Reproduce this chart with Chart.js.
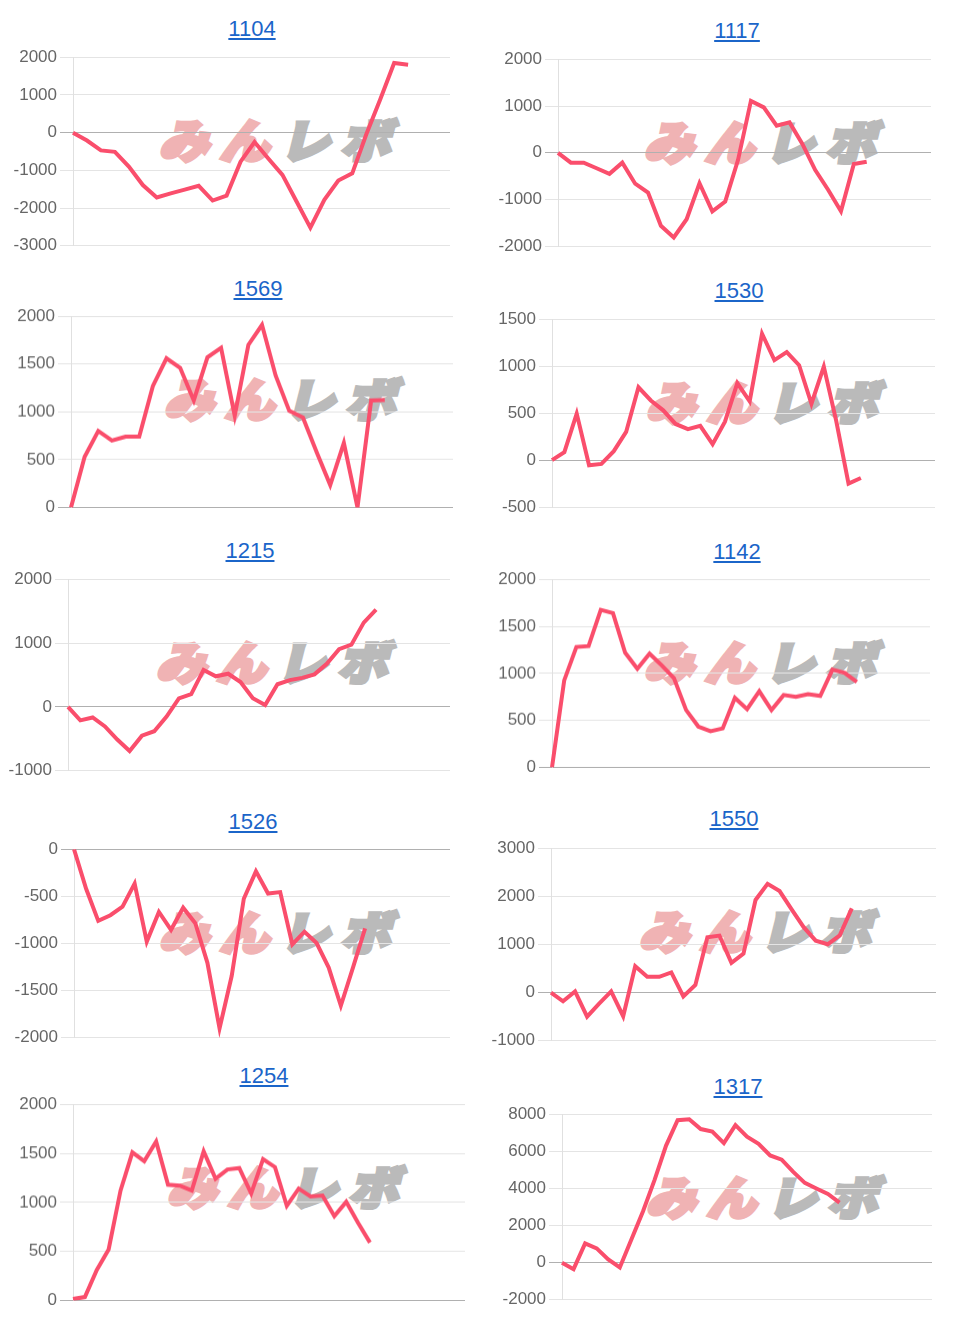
<!DOCTYPE html>
<html>
<head>
<meta charset="utf-8">
<script src="https://cdn.jsdelivr.net/npm/chart.js@4.4.0/dist/chart.umd.min.js"></script>
<style>
  html, body { margin: 0; padding: 0; background: #fff; }
  #page { position: relative; width: 958px; height: 1318px; overflow: hidden; }
  .ttl { position: absolute; width: 200px; text-align: center; font: 22px "Liberation Sans", Arial, sans-serif;
         line-height: 26px; color: #1b65c9; text-decoration: underline; }
  .wm { position: absolute; width: 250px; height: 44px; white-space: nowrap; font-family: "Noto Sans CJK JP", sans-serif;
        font-weight: 900; font-size: 46px; line-height: 44px; letter-spacing: 10px;
        transform-origin: 0 50%; transform: skewX(-14deg) scaleX(1.08); }
  .wm .a { color: #f0b3b4; -webkit-text-stroke: 4px #f0b3b4; }
  .wm .b { color: #bababa; -webkit-text-stroke: 4px #bababa; }
  .box { position: absolute; }
</style>
</head>
<body>
<div id="page"></div>
<script>
  // machine numbers shown above each chart
  const titles = ['1104', '1117', '1569', '1530', '1215', '1142', '1526', '1550', '1254', '1317'];

  // number of (hidden) x categories per chart
  const labelCounts = [28, 30, 29, 32, 32, 32, 32, 33, 34, 33];

  // series values
  const s1104 = [0, -210, -470, -510, -900, -1390, -1720, -1610, -1510, -1410, -1800, -1670, -770, -250, -690, -1120, -1820, -2520, -1780, -1270, -1080, -50, 880, 1845, 1800];
  const s1117 = [0, -210, -210, -330, -450, -210, -660, -850, -1560, -1810, -1420, -650, -1250, -1040, -150, 1110, 970, 580, 650, 190, -370, -790, -1250, -240, -190];
  const s1569 = [0, 530, 800, 700, 740, 740, 1270, 1560, 1460, 1120, 1570, 1670, 960, 1700, 1910, 1380, 1010, 940, 580, 235, 675, 0, 1120, 1125];
  const s1530 = [0, 85, 495, -55, -40, 95, 300, 775, 635, 530, 385, 330, 365, 170, 410, 820, 625, 1345, 1065, 1150, 1010, 600, 995, 420, -250, -190];
  const s1215 = [0, -210, -165, -305, -510, -690, -450, -380, -150, 135, 200, 580, 480, 520, 390, 135, 30, 355, 420, 455, 510, 675, 905, 975, 1320, 1525];
  const s1142 = [0, 925, 1280, 1290, 1675, 1640, 1220, 1050, 1210, 1085, 950, 610, 435, 385, 415, 740, 620, 810, 610, 770, 750, 780, 760, 1040, 1005, 910];
  const s1526 = [0, -420, -760, -700, -610, -365, -980, -665, -855, -620, -785, -1205, -1900, -1345, -525, -235, -470, -455, -1010, -875, -995, -1255, -1660, -1255, -840];
  const s1550 = [0, -180, 25, -500, -230, 25, -490, 550, 330, 330, 420, -80, 160, 1150, 1185, 620, 810, 1925, 2260, 2110, 1730, 1360, 1080, 1005, 1190, 1750];
  const s1254 = [15, 35, 310, 520, 1120, 1510, 1420, 1620, 1180, 1170, 1120, 1520, 1240, 1335, 1350, 1090, 1440, 1360, 965, 1140, 1060, 1070, 860, 1005, 790, 590];
  const s1317 = [0, -350, 1040, 770, 180, -260, 1250, 2760, 4450, 6310, 7680, 7730, 7200, 7060, 6440, 7410, 6790, 6400, 5780, 5550, 4890, 4300, 4000, 3700, 3240];
  const seriesList = [s1104, s1117, s1569, s1530, s1215, s1142, s1526, s1550, s1254, s1317];

  // y axis tick ranges
  const yMins  = [-3000, -2000,    0, -500, -1000,    0, -2000, -1000,    0, -2000];
  const yMaxs  = [ 2000,  2000, 2000, 1500,  2000, 2000,     0,  3000, 2000,  8000];
  const ySteps = [ 1000,  1000,  500,  500,  1000,  500,   500,  1000,  500,  2000];

  // placement of each chart on the page: plot area edges, title centre, watermark left
  const layout = [
    { left: 73,  right: 450, top: 55.7,  bottom: 246.7,  tx: 252, ty: 29,   wm: 160 },
    { left: 558, right: 933, top: 57.7,  bottom: 247.3,  tx: 737, ty: 31,   wm: 645 },
    { left: 71,  right: 455, top: 315,   bottom: 507.7,  tx: 258, ty: 289,  wm: 165 },
    { left: 552, right: 937, top: 317.7, bottom: 508,    tx: 739, ty: 291,  wm: 647 },
    { left: 68,  right: 450, top: 577.7, bottom: 771.7,  tx: 250, ty: 551,  wm: 157 },
    { left: 552, right: 932, top: 578,   bottom: 767.7,  tx: 737, ty: 552,  wm: 645 },
    { left: 74,  right: 450, top: 848,   bottom: 1039,   tx: 253, ty: 822,  wm: 160 },
    { left: 551, right: 936, top: 846.7, bottom: 1041.7, tx: 734, ty: 819,  wm: 640 },
    { left: 73,  right: 467, top: 1103,  bottom: 1300.7, tx: 264, ty: 1076, wm: 168 },
    { left: 562, right: 932, top: 1113,  bottom: 1301,   tx: 738, ty: 1087, wm: 647 }
  ];

  const AXIS_W = 62;
  const PAD = 12;
  const LINE_RED = 'rgb(250, 78, 108)';
  const page = document.getElementById('page');

  titles.forEach((title, i) => {
    const L = layout[i];

    const a = document.createElement('a');
    a.className = 'ttl';
    a.href = '#';
    a.textContent = title;
    a.style.left = (L.tx - 100) + 'px';
    a.style.top = (L.ty - 13) + 'px';
    page.appendChild(a);

    // site watermark sits behind the line
    const wm = document.createElement('div');
    wm.className = 'wm';
    wm.innerHTML = '<span class="a">みん</span><span class="b">レボ</span>';
    wm.style.left = (L.wm + 4) + 'px';
    wm.style.top = (L.top + 60) + 'px';
    page.appendChild(wm);

    const boxLeft = L.left - AXIS_W;
    const box = document.createElement('div');
    box.className = 'box';
    box.style.left = boxLeft + 'px';
    box.style.top = (L.top - PAD) + 'px';
    box.style.width = (L.right - boxLeft) + 'px';
    box.style.height = (L.bottom - L.top + 2 * PAD) + 'px';
    const cv = document.createElement('canvas');
    box.appendChild(cv);
    page.appendChild(box);

    new Chart(cv, {
      type: 'line',
      data: {
        labels: Array.from({ length: labelCounts[i] }, (_, k) => String(k + 1)),
        datasets: [{
          data: seriesList[i],
          borderColor: LINE_RED,
          borderWidth: 4,
          pointRadius: 0,
          tension: 0,
          fill: false
        }]
      },
      options: {
        responsive: true,
        maintainAspectRatio: false,
        animation: false,
        devicePixelRatio: 1,
        layout: { padding: { top: PAD, bottom: PAD, left: 0, right: 0 } },
        plugins: {
          legend: { display: false },
          tooltip: { enabled: false }
        },
        scales: {
          x: { display: false },
          y: {
            min: yMins[i],
            max: yMaxs[i],
            afterFit: function(scale) { scale.width = AXIS_W; },
            ticks: {
              stepSize: ySteps[i],
              color: '#666',
              padding: 3,
              font: { size: 17, family: '"Liberation Sans", Arial, sans-serif' },
              callback: function(value) { return String(value); }
            },
            grid: {
              tickLength: 13,
              color: function(ctx) {
                return ctx.tick && ctx.tick.value === 0 ? '#b0b0b0' : '#e4e4e4';
              }
            },
            border: { color: '#e0e0e0' }
          }
        }
      }
    });
  });
</script>
</body>
</html>
